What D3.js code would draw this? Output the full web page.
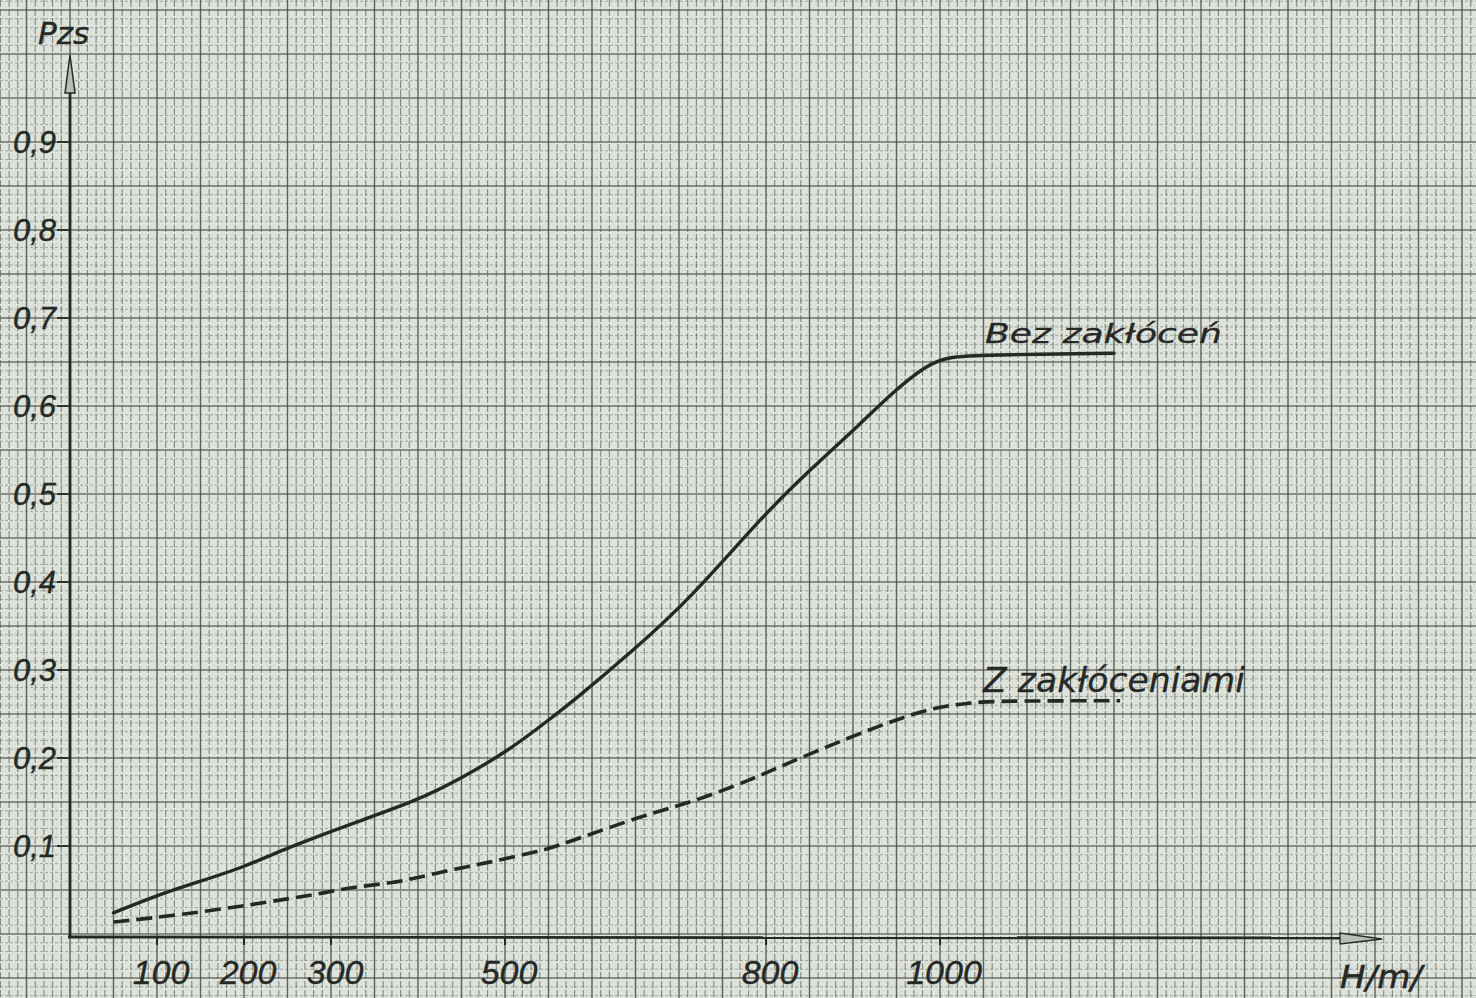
<!DOCTYPE html>
<html>
<head>
<meta charset="utf-8">
<script src="https://cdn.jsdelivr.net/npm/d3@7"></script>
<style>
  html, body { margin: 0; padding: 0; background: #dfe5dc; }
  svg { display: block; }
</style>
</head>
<body>
<svg id="chart" width="1476" height="998"></svg>
<script>
// ---- data ----
const heightsBez = [50, 100, 150, 200, 250, 320, 400, 450, 505, 550, 580, 645, 715, 795, 850, 910, 945, 985, 1010, 1050, 1200];
const probBez    = [0.024, 0.044, 0.060, 0.076, 0.098, 0.124, 0.152, 0.177, 0.209, 0.243, 0.266, 0.320, 0.383, 0.474, 0.527, 0.581, 0.615, 0.647, 0.656, 0.658, 0.660];

const heightsZ = [50, 103, 195, 256, 295, 322, 371, 399, 448, 475, 544, 560, 667, 713, 782, 820, 897, 954, 992, 1031, 1069, 1207];
const probZ    = [0.0136, 0.019, 0.031, 0.041, 0.047, 0.053, 0.058, 0.064, 0.075, 0.080, 0.095, 0.100, 0.1375, 0.149, 0.175, 0.192, 0.224, 0.245, 0.257, 0.2625, 0.265, 0.265];

const xTickValues = [100, 200, 300, 500, 800, 1000];
const xTickLabels = ["100", "200", "300", "500", "800", "1000"];
const yTickValues = [0.1, 0.2, 0.3, 0.4, 0.5, 0.6, 0.7, 0.8, 0.9];
const yTickLabels = ["0,1", "0,2", "0,3", "0,4", "0,5", "0,6", "0,7", "0,8", "0,9"];

const seriesNames = ["Bez zakłóceń", "Z zakłóceniami"];
const yAxisTitle = "Pzs";
const xAxisTitle = "H/m/";

// ---- layout ----
const W = 1476, H = 998;
const svg = d3.select("#chart");
const x = d3.scaleLinear().domain([0, 1000]).range([70, 940]);
const y = d3.scaleLinear().domain([0, 0.9]).range([934, 142]);

const font = "'DejaVu Sans', sans-serif";
const numFont = "'Liberation Sans', Arial, sans-serif";
const ink = "#262826";

// ---- graph paper ----
svg.append("rect").attr("width", W).attr("height", H).attr("fill", "#dde3da");
const grid = svg.append("g");
const hMin = Math.floor(x.invert(0) / 10) * 10, hMax = Math.ceil(x.invert(W) / 10) * 10;
const vx = d3.range(hMin, hMax + 1, 10);
grid.selectAll("line.vx").data(vx).join("line")
  .attr("x1", d => x(d)).attr("x2", d => x(d))
  .attr("y1", 0).attr("y2", H)
  .attr("stroke", d => (Math.round(d) % 50 === 0) ? "#3c403b" : "#4c514b")
  .attr("stroke-width", d => (Math.round(d) % 50 === 0) ? 1.4 : 1.1)
  .attr("stroke-opacity", d => (Math.round(d) % 50 === 0) ? 0.8 : 0.62)
  .attr("stroke-dasharray", d => (Math.round(d) % 50 === 0) ? null : "7,2");
const pMin = Math.floor(y.invert(H) * 100), pMax = Math.ceil(y.invert(0) * 100);
const hy = d3.range(pMin, pMax + 1);
grid.selectAll("line.hy").data(hy).join("line")
  .attr("x1", 0).attr("x2", W)
  .attr("y1", d => y(d / 100)).attr("y2", d => y(d / 100))
  .attr("stroke", d => (d % 5 === 0) ? "#484d47" : "#636962")
  .attr("stroke-width", d => (d % 5 === 0) ? 1.3 : 1)
  .attr("stroke-opacity", d => (d % 5 === 0) ? 0.75 : 0.5)
  .attr("stroke-dasharray", d => (d % 5 === 0) ? null : "3,2");

// ---- axes ----
const axes = svg.append("g");
axes.append("line").attr("x1", x(0)).attr("x2", x(0)).attr("y1", y(0) + 3).attr("y2", 92)
  .attr("stroke", ink).attr("stroke-width", 2.8);
axes.append("path")
  .attr("d", `M${x(0)},55 L${x(0) - 5},93 L${x(0) + 5},93 Z`)
  .attr("fill", "#b9beb6").attr("stroke", ink).attr("stroke-width", 1.5);
axes.append("line").attr("x1", x(0) - 2).attr("x2", 1342).attr("y1", y(0) + 3).attr("y2", y(0) + 4)
  .attr("stroke", ink).attr("stroke-width", 2.8);
axes.append("path")
  .attr("d", `M1382,${y(0) + 5} L1340,${y(0) - 1} L1340,${y(0) + 10} Z`)
  .attr("fill", "#b9beb6").attr("stroke", ink).attr("stroke-width", 1.3);

// y ticks
const yt = axes.append("g");
yTickValues.forEach((v, i) => {
  yt.append("line").attr("x1", x(0) - 13).attr("x2", x(0)).attr("y1", y(v)).attr("y2", y(v))
    .attr("stroke", ink).attr("stroke-width", 1.8);
  yt.append("text").attr("x", 56).attr("y", y(v) + 11)
    .attr("text-anchor", "end").attr("font-family", numFont).attr("font-style", "italic")
    .attr("font-size", 31).attr("fill", ink).attr("stroke", ink).attr("stroke-width", 0.4)
    .text(yTickLabels[i]);
});
// x ticks
const xt = axes.append("g");
xTickValues.forEach((v, i) => {
  xt.append("line").attr("x1", x(v)).attr("x2", x(v)).attr("y1", y(0) + 4).attr("y2", y(0) + 11)
    .attr("stroke", ink).attr("stroke-width", 2);
  xt.append("text").attr("x", x(v) + 4).attr("y", 984)
    .attr("text-anchor", "middle").attr("font-family", numFont).attr("font-style", "italic")
    .attr("font-size", 34).attr("fill", ink).attr("stroke", ink).attr("stroke-width", 0.4)
    .text(xTickLabels[i]);
});

// axis titles
svg.append("text").attr("x", 38).attr("y", 44).attr("font-family", font).attr("font-style", "italic")
  .attr("font-size", 31).attr("fill", ink).attr("stroke", ink).attr("stroke-width", 0.4).text(yAxisTitle);
svg.append("text").attr("x", 1340).attr("y", 988).attr("font-family", font).attr("font-style", "italic")
  .attr("font-size", 32).attr("fill", ink).attr("stroke", ink).attr("stroke-width", 0.5)
  .attr("textLength", 82).attr("lengthAdjust", "spacingAndGlyphs").text(xAxisTitle);

// ---- curves ----
const line = d3.line().x(d => x(d[0])).y(d => y(d[1])).curve(d3.curveBasis);
const bez = heightsBez.map((h, i) => [h, probBez[i]]);
const zak = heightsZ.map((h, i) => [h, probZ[i]]);

svg.append("path").datum(bez).attr("d", line)
  .attr("fill", "none").attr("stroke", ink).attr("stroke-width", 3.4).attr("stroke-linecap", "round");
svg.append("path").datum(zak).attr("d", line)
  .attr("fill", "none").attr("stroke", ink).attr("stroke-width", 3.6)
  .attr("stroke-dasharray", "16,7");

// ---- labels ----
svg.append("text").attr("x", 985).attr("y", 343).attr("font-family", font).attr("font-style", "italic")
  .attr("font-size", 27).attr("fill", ink).attr("stroke", ink).attr("stroke-width", 0.3)
  .attr("textLength", 237).attr("lengthAdjust", "spacingAndGlyphs")
  .text(seriesNames[0]);
svg.append("text").attr("x", 983).attr("y", 692).attr("font-family", font).attr("font-style", "italic")
  .attr("font-size", 33).attr("fill", ink).attr("stroke", ink).attr("stroke-width", 0.3)
  .attr("textLength", 262).attr("lengthAdjust", "spacingAndGlyphs")
  .text(seriesNames[1]);
</script>
</body>
</html>
